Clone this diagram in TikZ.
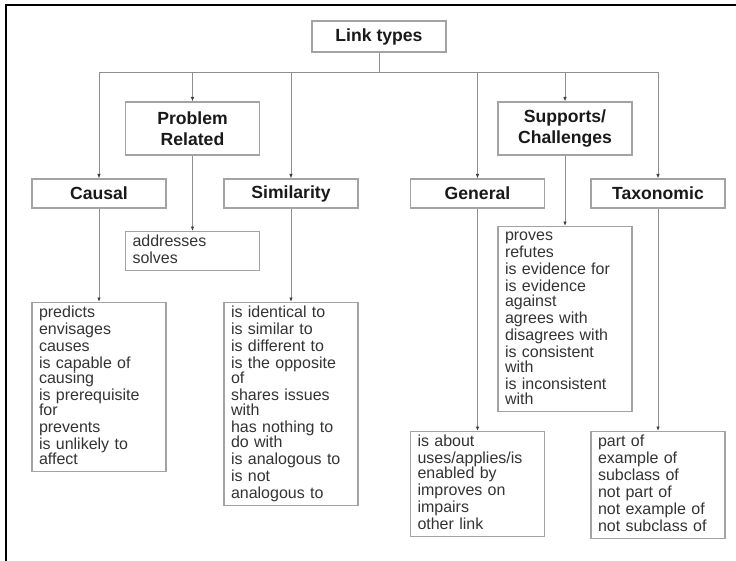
\documentclass[tikz,border=0pt]{standalone}
\usepackage{fontspec}
\setmainfont{Liberation Sans}
\usetikzlibrary{arrows.meta}
\definecolor{boxline}{HTML}{A3A3A3}
\definecolor{conline}{HTML}{8F8F8F}
\definecolor{txt}{HTML}{333333}
\newcommand\listfont{\fontsize{16}{15}\selectfont\lineskiplimit=-20pt\relax}
\begin{document}
\begin{tikzpicture}[x=1pt,y=-1pt]
\def\boxw{134pt}
\def\igap{2pt}
\tikzset{base/.style={draw=boxline,line width=1.1pt,text=txt},
head/.style={base,minimum width=\boxw,minimum height=29pt,inner sep=0pt,align=center,
  font=\fontsize{17.6}{21.5}\selectfont\bfseries,text=black!90},
lst/.style={base,anchor=north,text width=120pt,inner xsep=7pt,inner ysep=3pt,align=left,
  font=\listfont,execute at begin node=\strut,execute at end node=\strut},
every path/.style={>={Latex[length=4.5pt,width=3.6pt,color=black!75]}},
conn/.style={draw=conline,line width=0.9pt}}
\useasboundingbox (0,0) rectangle (736,560);
\draw[line width=2pt] (6,5) rectangle (750,575);
% headings
\node[head,minimum height=31pt] at (379,36.5) (LT) {Link types};
\node[head,minimum height=53pt] at (192.5,128.5) (PROB) {Problem\\ Related};
\node[head,minimum height=53pt] at (565,128.5) (SUPP) {Supports/\\ Challenges};
\node[head] at (99,193.5) (CAUS) {Causal};
\node[head] at (291,193.5) (SIMI) {Similarity};
\node[head] at (477.5,193.5) (GENE) {General};
\node[head] at (658,193.5) (TAXO) {Taxonomic};
% link lists
\node[lst] at (192.5,231) (ADDR) {addresses\\[\igap] solves};
\node[lst] at (99,302) (CAUSL) {predicts\\[\igap] envisages\\[\igap] causes\\[\igap] is capable of\\ causing\\[\igap]
  is prerequisite\\ for\\[\igap] prevents\\[\igap] is unlikely to\\ affect};
\node[lst] at (291,302) (SIMIL) {is identical to\\[\igap] is similar to\\[\igap] is different to\\[\igap] is the opposite\\ of\\[\igap]
  shares issues\\ with\\[\igap] has nothing to\\ do with\\[\igap] is analogous to\\[\igap] is not\\[\igap] analogous to};
\node[lst] at (565,226) (SUPPL) {proves\\[\igap] refutes\\[\igap] is evidence for\\[\igap] is evidence\\ against\\[\igap]
  agrees with\\[\igap] disagrees with\\[\igap] is consistent\\ with\\[\igap] is inconsistent\\ with};
\node[lst] at (477.5,431) (GENEL) {is about\\[\igap] uses/applies/is\\ enabled by\\[\igap] improves on\\[\igap] impairs\\[\igap] other link};
\node[lst] at (658,431) (TAXOL) {part of\\[\igap] example of\\[\igap] subclass of\\[\igap] not part of\\[\igap] not example of\\[\igap] not subclass of};
% connectors
\coordinate (bus) at (379,72);
\path[conn] (LT) -- (bus);
\path[conn] (CAUS |- bus) -- (TAXO |- bus);
\foreach \n in {CAUS,PROB,SIMI,GENE,SUPP,TAXO}
  \path[conn,->] (\n |- bus) -- (\n.north);
\path[conn,->] (CAUS) -- (CAUSL);
\path[conn,->] (PROB) -- (ADDR);
\path[conn,->] (SIMI) -- (SIMIL);
\path[conn,->] (GENE) -- (GENEL);
\path[conn,->] (SUPP) -- (SUPPL);
\path[conn,->] (TAXO) -- (TAXOL);
\end{tikzpicture}
\end{document}
